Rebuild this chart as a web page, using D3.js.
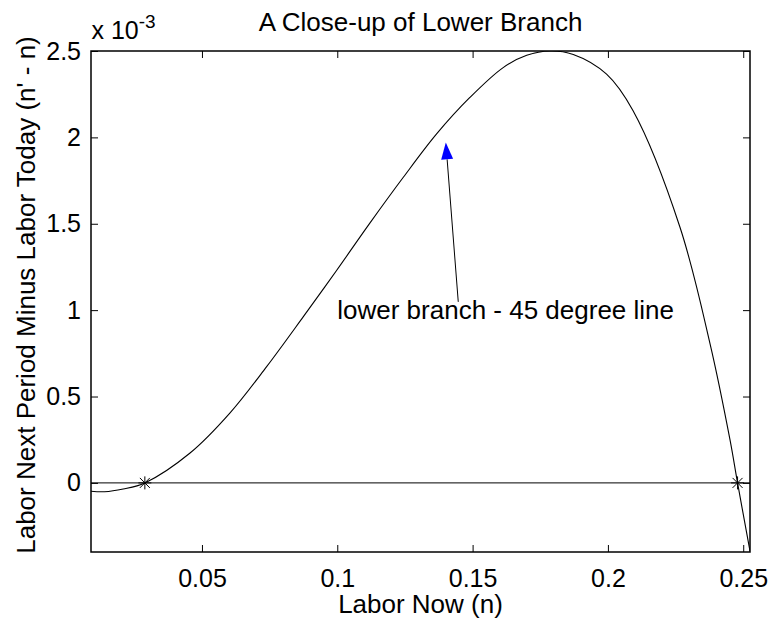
<!DOCTYPE html>
<html>
<head>
<meta charset="utf-8">
<script src="https://cdn.jsdelivr.net/npm/d3@7"></script>
<style>
    body { margin: 0; background: #fff; }
    text { font-family: 'Liberation Sans', Arial, Helvetica, sans-serif; fill: #000; }
</style>
</head>
<body>
<div id="main-chart"></div>
<script>
// Data (difference in units of 1e-3)
let laborNow = [0.009, 0.014, 0.0209, 0.0289, 0.0456, 0.0603, 0.0739, 0.0874, 0.0998, 0.1121,
    0.1244, 0.1367, 0.149, 0.1613, 0.170, 0.1786, 0.1872, 0.1995, 0.2093,
    0.2266, 0.2377, 0.2451, 0.2479, 0.2525];
let laborDiff = [-0.048, -0.051, -0.035, 0, 0.173, 0.404, 0.673, 0.961, 1.231, 1.505,
    1.769, 2.02, 2.231, 2.404, 2.475, 2.50, 2.48, 2.366, 2.154,
    1.481, 0.808, 0.25, 0, -0.395];
let steadyStates = [0.0289, 0.2479];

let xTicks = [0.05, 0.1, 0.15, 0.2, 0.25];
let xTickLabels = ['0.05', '0.1', '0.15', '0.2', '0.25'];
let yTicks = [0, 0.5, 1, 1.5, 2, 2.5];
let yTickLabels = ['0', '0.5', '1', '1.5', '2', '2.5'];

// annotation: arrow tail / tip and label anchor, in data units
let arrowFrom = [0.1447, 1.048];
let arrowTo = [0.1401, 1.971];
let notePos = [0.1, 0.948];

let data = laborNow.map(function (n, i) {
    return { n: n, d: laborDiff[i] };
});

// Set dimensions and margins
let margin = { top: 51, right: 24, bottom: 74, left: 91 },
    width = 774 - margin.left - margin.right,
    height = 626 - margin.top - margin.bottom;

let x = d3.scaleLinear().domain([0.009, 0.2525]).range([0, width]);
let y = d3.scaleLinear().domain([-0.4, 2.5]).range([height, 0]);

let svg = d3.select('#main-chart')
    .append('svg')
    .attr('width', width + margin.left + margin.right)
    .attr('height', height + margin.top + margin.bottom)
    .append('g')
    .attr('transform', 'translate(' + margin.left + ',' + margin.top + ')');

svg.append('clipPath')
    .attr('id', 'clip')
    .append('rect')
    .attr('width', width)
    .attr('height', height);

// 45 degree line (zero difference)
svg.append('line')
    .attr('x1', 0)
    .attr('x2', width)
    .attr('y1', y(0))
    .attr('y2', y(0))
    .attr('stroke', '#000')
    .attr('stroke-width', 1);

// lower branch curve
let line_branch = d3.line()
    .curve(d3.curveCatmullRom.alpha(0.5))
    .x(function (d) { return x(d.n); })
    .y(function (d) { return y(d.d); });

svg.append('path')
    .data([data])
    .attr('clip-path', 'url(#clip)')
    .attr('fill', 'none')
    .attr('stroke', '#000')
    .attr('stroke-width', 1.1)
    .attr('d', line_branch);

// star markers at the crossings
let star = svg.selectAll('.star')
    .data(steadyStates)
    .enter()
    .append('g')
    .attr('class', 'star')
    .attr('transform', function (d) { return 'translate(' + x(d) + ',' + y(0) + ')'; });
star.append('path')
    .attr('d', 'M-6.5,0H6.5M0,-6.5V6.5M-5,-5L5,5M-5,5L5,-5')
    .attr('stroke', '#000')
    .attr('stroke-width', 1);

// Axes with inward ticks
function styleAxis(g) {
    g.select('.domain').remove();
    g.selectAll('.tick line').attr('stroke', '#000').attr('stroke-width', 1);
    g.selectAll('.tick text').style('font-size', '25px').attr('fill', '#000');
}

svg.append('g')
    .attr('transform', 'translate(0,' + height + ')')
    .call(d3.axisBottom(x).tickValues(xTicks).tickSize(-7).tickPadding(17)
        .tickFormat(function (d, i) { return xTickLabels[i]; }))
    .call(styleAxis);

svg.append('g')
    .call(d3.axisTop(x).tickValues(xTicks).tickSize(-7).tickFormat(''))
    .call(styleAxis);

svg.append('g')
    .call(d3.axisLeft(y).tickValues(yTicks).tickSize(-7).tickPadding(10)
        .tickFormat(function (d, i) { return yTickLabels[i]; }))
    .call(styleAxis);

svg.append('g')
    .attr('transform', 'translate(' + width + ',0)')
    .call(d3.axisRight(y).tickValues(yTicks).tickSize(-7).tickFormat(''))
    .call(styleAxis);

svg.append('rect')
    .attr('width', width)
    .attr('height', height)
    .attr('fill', 'none')
    .attr('stroke', '#000')
    .attr('stroke-width', 1.5);

// arrow annotation
let ax0 = x(arrowFrom[0]), ay0 = y(arrowFrom[1]);
let ax1 = x(arrowTo[0]), ay1 = y(arrowTo[1]);
let ang = Math.atan2(ay1 - ay0, ax1 - ax0);
let headLen = 17, headHalf = 6;
let bx = ax1 - headLen * Math.cos(ang), by = ay1 - headLen * Math.sin(ang);

svg.append('line')
    .attr('x1', ax0).attr('y1', ay0)
    .attr('x2', bx).attr('y2', by)
    .attr('stroke', '#000')
    .attr('stroke-width', 1);

svg.append('path')
    .attr('d', 'M' + ax1 + ',' + ay1 +
        'L' + (bx + headHalf * Math.sin(ang)) + ',' + (by - headHalf * Math.cos(ang)) +
        'L' + (bx - headHalf * Math.sin(ang)) + ',' + (by + headHalf * Math.cos(ang)) + 'Z')
    .attr('fill', '#0000ff')
    .attr('stroke', 'none');

svg.append('text')
    .attr('x', x(notePos[0]))
    .attr('y', y(notePos[1]))
    .style('font-size', '26px')
    .text('lower branch - 45 degree line');

// Title and labels
svg.append('text')
    .attr('x', width / 2)
    .attr('y', -20)
    .attr('text-anchor', 'middle')
    .style('font-size', '26px')
    .text('A Close-up of Lower Branch');

svg.append('text')
    .attr('x', width / 2)
    .attr('y', height + 61)
    .attr('text-anchor', 'middle')
    .style('font-size', '26px')
    .text('Labor Now (n)');

svg.append('text')
    .attr('transform', 'translate(' + (35 - margin.left) + ',' + (295 - margin.top) + ') rotate(-90)')
    .attr('text-anchor', 'middle')
    .style('font-size', '26px')
    .text("Labor Next Period Minus Labor Today (n' - n)");

// exponent label
let expo = svg.append('text')
    .attr('x', 0.5)
    .attr('y', -12)
    .style('font-size', '25px');
expo.append('tspan').text('x 10');
expo.append('tspan')
    .attr('dy', -11)
    .style('font-size', '19px')
    .text('-3');
</script>
</body>
</html>
